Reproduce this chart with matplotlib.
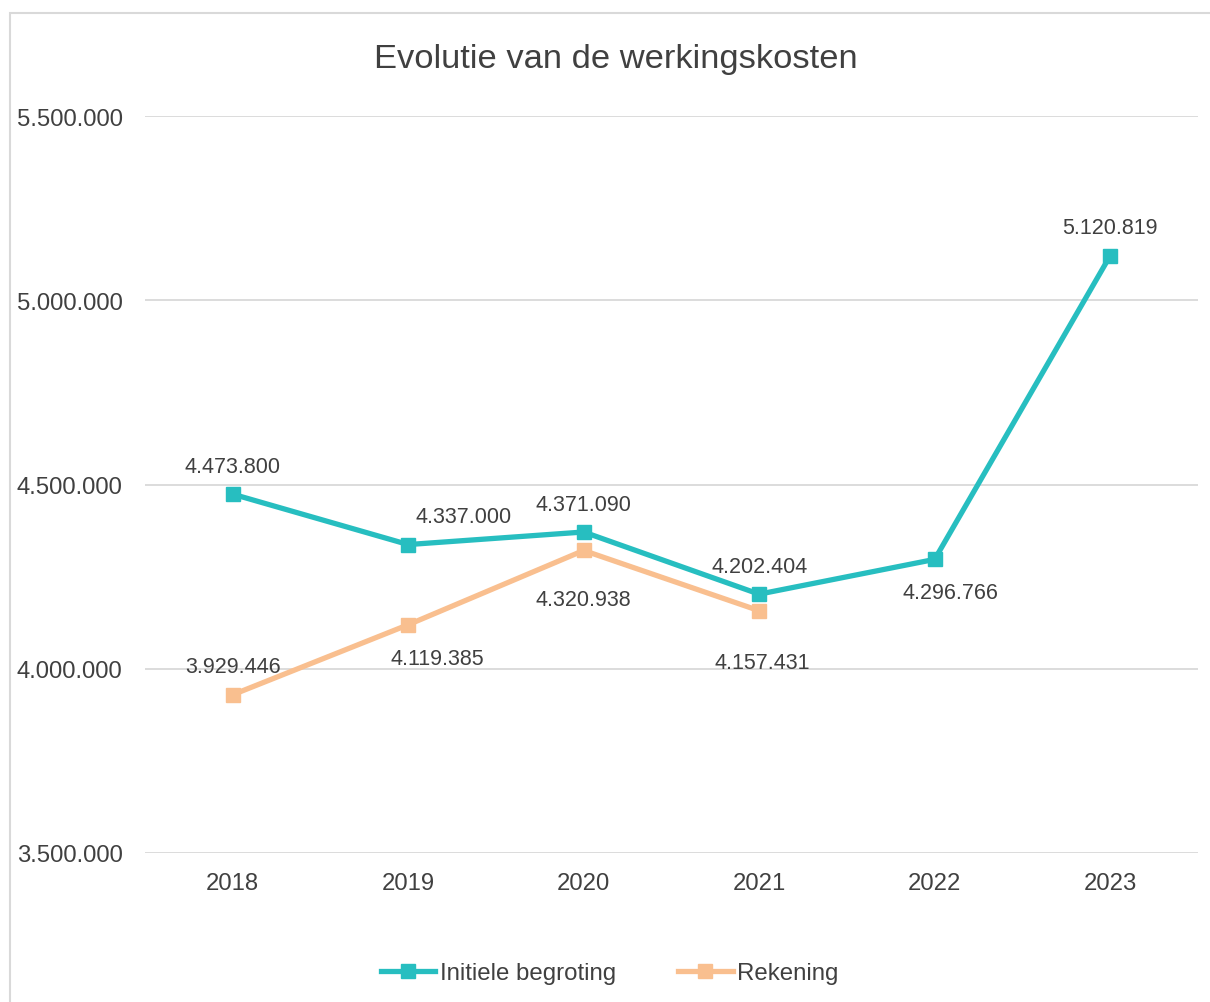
import matplotlib
matplotlib.use("Agg")
import matplotlib.pyplot as plt
from matplotlib.patches import Rectangle
from matplotlib.ticker import FuncFormatter

# data
years = ["2018", "2019", "2020", "2021", "2022", "2023"]
begroting = [4473800, 4337000, 4371090, 4202404, 4296766, 5120819]
rekening = [3929446, 4119385, 4320938, 4157431]

# label offsets in points (dx, dy)
off_begroting = [(0, 20), (40, 20), (0, 20), (0, 20), (11, -24), (0, 20)]
off_rekening = [(0, 20), (21, -24), (0, -35), (2, -37)]

teal = "#27BEC0"
peach = "#F9BF8F"
txt = "#404040"

plt.rcParams['font.family'] = ['Liberation Sans', 'DejaVu Sans']

def dots(v, pos=None):
    return f"{int(round(v)):,}".replace(",", ".")

fig = plt.figure(figsize=(12.1, 10.03), dpi=100)
ax = fig.add_axes([0.1198, 0.1486, 0.8702, 0.7347])

x = list(range(len(years)))
ax.plot(x, begroting, color=teal, lw=3.8, marker='s', ms=10, label='Initiele begroting', zorder=3)
ax.plot(x[:len(rekening)], rekening, color=peach, lw=3.8, marker='s', ms=10, label='Rekening', zorder=3)

for i, v in enumerate(begroting):
    ax.annotate(dots(v), (i, v), xytext=off_begroting[i], textcoords='offset points',
                ha='center', va='center', fontsize=15.5, color=txt)
for i, v in enumerate(rekening):
    ax.annotate(dots(v), (i, v), xytext=off_rekening[i], textcoords='offset points',
                ha='center', va='center', fontsize=15.5, color=txt)

ax.set_xlim(-0.5, 5.5)
ax.set_ylim(3500000, 5500000)
ax.set_yticks([3500000, 4000000, 4500000, 5000000, 5500000])
ax.yaxis.set_major_formatter(FuncFormatter(dots))
ax.set_xticks(x)
ax.set_xticklabels(years)
ax.tick_params(axis='both', length=0, labelsize=17.2, colors=txt)
ax.tick_params(axis='y', pad=16)
ax.tick_params(axis='x', pad=14)
ax.grid(axis='y', color='#D9D9D9', lw=1.3)
ax.set_axisbelow(True)
for s in ax.spines.values():
    s.set_visible(False)

fig.text(0.509, 0.941, "Evolutie van de werkingskosten", ha='center', va='center',
         fontsize=24.8, color=txt)

fig.legend(loc='center', bbox_to_anchor=(0.504, 0.029), ncol=2, frameon=False,
           fontsize=17.3, handlelength=2.25, handletextpad=0.2, columnspacing=2.6,
           labelcolor=txt)

fig.patches.append(Rectangle((0.0083, -0.5), 1.5, 1.486, transform=fig.transFigure,
                             fill=False, edgecolor='#D9D9D9', lw=1.5))

fig.savefig("out.png", dpi=100)
